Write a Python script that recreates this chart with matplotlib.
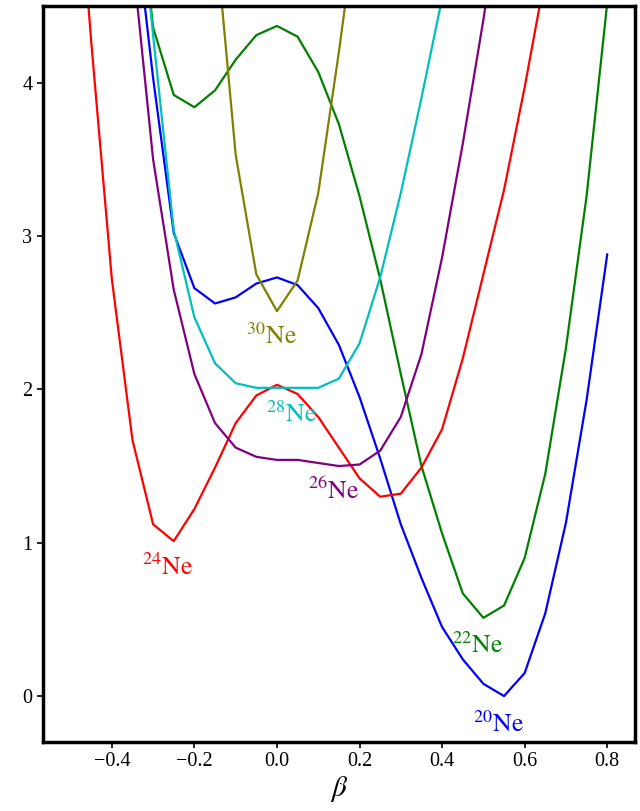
import numpy as np
import matplotlib
matplotlib.use("Agg")
import matplotlib.pyplot as plt

nan = np.nan
beta = [-0.5, -0.45, -0.4, -0.35, -0.3, -0.25, -0.2, -0.15, -0.1, -0.05, 0.0,
        0.05, 0.1, 0.15, 0.2, 0.25, 0.3, 0.35, 0.4, 0.45, 0.5, 0.55, 0.6,
        0.65, 0.7, 0.75, 0.8]

ne20 = [nan, nan, nan, 5.2, 4.03, 3.02, 2.66, 2.56, 2.60, 2.69, 2.73, 2.68, 2.53,
        2.29, 1.95, 1.55, 1.12, 0.77, 0.45, 0.24, 0.08, 0.00, 0.15, 0.54, 1.13,
        1.93, 2.88]
ne22 = [nan, nan, nan, 5.6, 4.36, 3.92, 3.84, 3.95, 4.15, 4.31, 4.37, 4.30, 4.07,
        3.73, 3.26, 2.72, 2.10, 1.50, 1.06, 0.67, 0.51, 0.59, 0.90, 1.45, 2.27,
        3.26, 4.52]
ne24 = [6.0, 4.27, 2.72, 1.67, 1.12, 1.01, 1.22, 1.49, 1.78, 1.96, 2.03, 1.97, 1.82,
        1.62, 1.42, 1.30, 1.32, 1.49, 1.74, 2.20, 2.75, 3.30, 3.97, 4.7, nan,
        nan, nan]
ne26 = [nan, nan, nan, 4.82, 3.50, 2.65, 2.10, 1.78, 1.62, 1.56, 1.54, 1.54, 1.52,
        1.50, 1.51, 1.60, 1.82, 2.23, 2.86, 3.60, 4.41, 5.3, nan, nan, nan,
        nan, nan]
ne28 = [nan, nan, nan, 5.65, 4.31, 3.04, 2.47, 2.17, 2.04, 2.01, 2.01, 2.01, 2.01,
        2.07, 2.30, 2.73, 3.28, 3.90, 4.55, 5.3, nan, nan, nan, nan, nan,
        nan, nan]
ne30 = [nan, nan, nan, nan, nan, nan, nan, 5.0, 3.53, 2.75, 2.51, 2.71, 3.28,
        4.2, 5.2, nan, nan, nan, nan, nan, nan, nan, nan, nan, nan,
        nan, nan]

series = [ne20, ne22, ne24, ne26, ne28, ne30]
colors = ["#0000ff", "#008000", "#ff0000", "#800080", "#00bfbf", "#808000"]
labels = [r"$^{20}\mathrm{Ne}$", r"$^{22}\mathrm{Ne}$", r"$^{24}\mathrm{Ne}$",
          r"$^{26}\mathrm{Ne}$", r"$^{28}\mathrm{Ne}$", r"$^{30}\mathrm{Ne}$"]
label_pos = [(0.537, -0.18), (0.487, 0.33), (-0.266, 0.84), (0.136, 1.34),
             (0.036, 1.84), (-0.012, 2.35)]

plt.rcParams["font.family"] = ["Liberation Serif", "DejaVu Serif"]
plt.rcParams["mathtext.fontset"] = "stix"

fig = plt.figure(figsize=(6.4, 8.11), dpi=100)
ax = fig.add_axes([0.067, 0.085, 0.925, 0.9076])

for y, c, lab, (lx, ly) in zip(series, colors, labels, label_pos):
    ax.plot(beta, y, color=c, lw=1.6)
    ax.text(lx, ly, lab, color=c, fontsize=18.5, ha="center", va="center")

ax.set_xlim(-0.567, 0.867)
ax.set_ylim(-0.3, 4.5)
ax.set_xticks([-0.4, -0.2, 0.0, 0.2, 0.4, 0.6, 0.8])
ax.set_yticks([0, 1, 2, 3, 4])
ax.set_xlabel(r"$\beta$", fontsize=21, labelpad=2)
ax.tick_params(labelsize=14.5, length=4, width=1.2, direction="out")
for s in ax.spines.values():
    s.set_linewidth(2.5)

fig.savefig("out.png", dpi=100)
